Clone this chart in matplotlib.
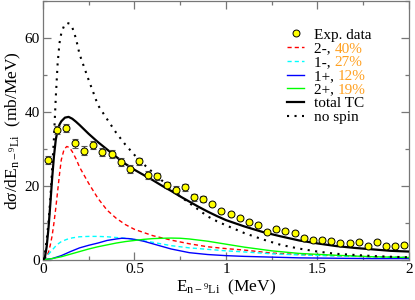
import numpy as np
import matplotlib
matplotlib.use('Agg')
import matplotlib.pyplot as plt
from matplotlib.ticker import MultipleLocator

plt.rcParams['font.family'] = ['Liberation Serif', 'DejaVu Serif']
plt.rcParams['mathtext.fontset'] = 'custom'
plt.rcParams['mathtext.rm'] = 'Liberation Serif'
plt.rcParams['mathtext.it'] = 'Liberation Serif:italic'

# experimental points
exp_x = [0.025, 0.075, 0.125, 0.175, 0.225, 0.275, 0.325, 0.375, 0.425, 0.475,
         0.525, 0.575, 0.625, 0.675, 0.725, 0.775, 0.825, 0.875, 0.925, 0.975,
         1.025, 1.075, 1.125, 1.175, 1.225, 1.275, 1.325, 1.375, 1.425, 1.475,
         1.525, 1.575, 1.625, 1.675, 1.725, 1.775, 1.825, 1.875, 1.925, 1.975]
exp_y = [27.0, 35.1, 35.6, 31.5, 29.5, 31.1, 29.0, 28.6, 26.3, 24.5,
         26.6, 22.9, 22.5, 20.2, 18.9, 19.6, 16.9, 16.5, 15.0, 13.1,
         12.3, 11.2, 10.2, 9.5, 7.6, 8.3, 7.7, 7.1, 5.9, 5.4,
         5.3, 5.1, 4.4, 4.5, 4.7, 3.6, 4.7, 3.8, 3.8, 4.0]
exp_err = [1.0, 1.1, 1.2, 1.2, 1.1, 1.1, 1.1, 1.1, 1.1, 1.0,
           1.0, 1.0, 1.0, 0.9, 0.9, 0.9, 0.9, 0.8, 0.6, 0.6,
           0.6, 0.6, 0.5, 0.5, 0.5, 0.5, 0.5, 0.5, 0.5, 0.5,
           0.5, 0.5, 0.5, 0.5, 0.5, 0.5, 0.5, 0.5, 0.5, 0.5]

# 2- component
r_x = [0.0, 0.02, 0.03, 0.04, 0.05, 0.06, 0.07, 0.08, 0.09, 0.10, 0.115, 0.13, 0.145,
       0.16, 0.18, 0.20, 0.25, 0.30, 0.35, 0.40, 0.45, 0.50, 0.60, 0.70, 0.80, 0.90,
       1.00, 1.10, 1.25, 1.40, 1.60, 1.80, 2.00]
r_y = [0.0, 0.8, 2.0, 4.0, 6.5, 10.0, 14.0, 18.5, 23.0, 27.0, 29.8, 30.6, 30.3,
       29.2, 27.3, 25.0, 20.6, 16.6, 13.4, 11.2, 9.5, 8.2, 6.5, 5.3, 4.3, 3.5,
       3.0, 2.6, 1.8, 1.4, 1.1, 0.8, 0.6]

# 1- component
c_x = [0.0, 0.025, 0.05, 0.075, 0.10, 0.13, 0.16, 0.20, 0.25, 0.30, 0.35, 0.40, 0.45,
       0.50, 0.60, 0.70, 0.80, 0.90, 1.00, 1.10, 1.25, 1.40, 1.60, 1.80, 2.00]
c_y = [0.0, 1.2, 2.6, 4.0, 4.9, 5.5, 5.9, 6.2, 6.3, 6.3, 6.2, 6.0, 5.8,
       5.5, 4.7, 3.8, 3.2, 2.8, 2.4, 2.1, 1.6, 1.3, 1.0, 0.8, 0.6]

# 1+ component
b_x = [0.0, 0.05, 0.10, 0.15, 0.20, 0.25, 0.30, 0.35, 0.40, 0.43, 0.47, 0.50, 0.55,
       0.60, 0.65, 0.70, 0.80, 0.90, 1.00, 1.10, 1.25, 1.40, 1.60, 1.80, 2.00]
b_y = [0.0, 0.3, 1.1, 2.2, 3.2, 3.9, 4.5, 5.2, 5.6, 5.8, 5.7, 5.5, 5.0,
       4.3, 3.6, 2.9, 1.9, 1.4, 1.1, 0.9, 0.7, 0.5, 0.4, 0.3, 0.3]

# 2+ component
g_x = [0.0, 0.05, 0.10, 0.15, 0.20, 0.25, 0.30, 0.35, 0.40, 0.45, 0.50, 0.55, 0.60,
       0.65, 0.70, 0.75, 0.80, 0.85, 0.90, 1.00, 1.10, 1.25, 1.40, 1.60, 1.80, 2.00]
g_y = [0.0, 0.3, 0.8, 1.5, 2.2, 2.9, 3.5, 4.0, 4.5, 4.9, 5.2, 5.5, 5.7,
       5.8, 5.85, 5.8, 5.6, 5.3, 5.0, 4.2, 3.4, 2.4, 1.7, 1.2, 0.8, 0.6]

# total TC
tc_x = [0.0, 0.01, 0.02, 0.03, 0.04, 0.05, 0.06, 0.07, 0.08, 0.09, 0.10, 0.12, 0.14,
        0.16, 0.18, 0.20, 0.25, 0.30, 0.35, 0.40, 0.45, 0.50, 0.55, 0.60, 0.65, 0.70,
        0.75, 0.80, 0.85, 0.90, 0.95, 1.00, 1.10, 1.20, 1.30, 1.40, 1.50, 1.60, 1.70,
        1.80, 1.90, 2.00]
tc_y = [0.0, 0.5, 3.5, 8.5, 15.0, 22.0, 28.0, 32.5, 35.0, 36.5, 37.4, 38.4, 38.6,
        38.1, 37.3, 36.4, 34.0, 31.8, 29.8, 27.8, 25.9, 24.3, 22.9, 21.5, 20.0, 18.6,
        17.1, 15.7, 14.3, 13.0, 11.8, 10.7, 9.0, 7.5, 6.3, 5.2, 4.4, 3.7, 3.2,
        2.8, 2.4, 2.2]

# no spin
ns_x = [0.0, 0.01, 0.02, 0.03, 0.04, 0.05, 0.06, 0.07, 0.08, 0.09, 0.10, 0.115, 0.13,
        0.145, 0.16, 0.18, 0.20, 0.225, 0.25, 0.275, 0.30, 0.35, 0.40, 0.45, 0.50,
        0.55, 0.60, 0.65, 0.70, 0.75, 0.80, 0.85, 0.90, 0.95, 1.00, 1.10, 1.20, 1.30,
        1.40, 1.50, 1.60, 1.70, 1.80, 1.90, 2.00]
ns_y = [0.0, 1.5, 5.3, 10.0, 16.5, 24.5, 33.0, 44.0, 53.0, 58.5, 61.2, 63.2, 64.0,
        63.8, 62.8, 59.8, 55.5, 52.0, 48.5, 45.2, 41.8, 38.0, 34.3, 31.1, 28.3,
        25.8, 23.6, 21.4, 19.2, 17.1, 15.3, 13.5, 11.7, 10.4, 9.3, 7.2, 5.5, 4.0,
        3.0, 2.2, 1.6, 1.3, 1.0, 0.8, 0.65]

comp_labels = ['2-, ', '1-, ', '1+, ', '2+, ']
comp_pct = ['40%', '27%', '12%', '19%']
comp_colors = ['#ff0000', '#00ffff', '#0000ff', '#00ff00']
comp_styles = [(0, (3, 2.2)), (0, (3, 2.2)), '-', '-']
comp_data = [(r_x, r_y), (c_x, c_y), (b_x, b_y), (g_x, g_y)]

fig = plt.figure(figsize=(4.15, 3.0), dpi=100)
ax = fig.add_axes([0.1036, 0.1343, 0.8819, 0.8634])

for (xs, ys), lab, col, ls in zip(comp_data, comp_labels, comp_colors, comp_styles):
    ax.plot(xs, ys, color=col, ls=ls, lw=1.0, label=lab, zorder=2)
ax.plot(tc_x, tc_y, color='black', lw=1.6, label='total TC', zorder=3)
ax.plot(ns_x, ns_y, color='black', lw=1.5, ls=(0, (1, 2.6)), label='no spin', zorder=3)

ax.errorbar(exp_x, exp_y, yerr=exp_err, fmt='none', ecolor='#555555',
            elinewidth=0.8, capsize=2.5, capthick=0.8, zorder=4)
ax.plot(exp_x, exp_y, 'o', ms=5, mfc='#ffff00', mec='black', mew=0.7,
        ls='none', label='Exp. data', zorder=5)

ax.set_xlim(0, 2)
ax.set_ylim(0, 70)
ax.xaxis.set_major_locator(MultipleLocator(0.5))
ax.xaxis.set_minor_locator(MultipleLocator(0.25))
ax.yaxis.set_major_locator(MultipleLocator(20))
ax.yaxis.set_minor_locator(MultipleLocator(10))
ax.set_xticks([0, 0.5, 1, 1.5, 2])
ax.set_xticklabels(['0', '0.5', '1', '1.5', '2'])

spine_col = '#777777'
for s in ax.spines.values():
    s.set_color(spine_col)
    s.set_linewidth(0.9)
ax.tick_params(which='both', direction='in', top=True, right=True,
               color=spine_col, labelsize=11, pad=2.5)
ax.tick_params(which='major', length=5.5, width=0.9)
ax.tick_params(which='minor', length=3, width=0.9)

ax.set_xlabel(r'E$_{\mathrm{n-}{}^{9}\mathrm{Li}}$  (MeV)', fontsize=12.5, labelpad=1)
ax.set_ylabel(r'd$\mathrm{\sigma}$/dE$_{\mathrm{n-}{}^{9}\mathrm{Li}}$  (mb/MeV)',
              fontsize=12.5, labelpad=1)

handles, labels = ax.get_legend_handles_labels()
order = [6, 0, 1, 2, 3, 4, 5]
leg = ax.legend([handles[i] for i in order], [labels[i] for i in order],
                loc='upper left', bbox_to_anchor=(0.667, 0.894), frameon=False,
                fontsize=11, numpoints=1, handlelength=1.1, handletextpad=0.65,
                labelspacing=0.0, borderpad=0, borderaxespad=0)

# orange percentages after the component labels
fig.canvas.draw()
renderer = fig.canvas.get_renderer()
texts = leg.get_texts()
for t, pct in zip(texts[1:5], comp_pct):
    bb = t.get_window_extent(renderer)
    fig.text(bb.x1, bb.y0, pct, transform=None, ha='left', va='bottom',
             fontsize=11, color='#ffa020')

fig.savefig('out.png', dpi=100)
